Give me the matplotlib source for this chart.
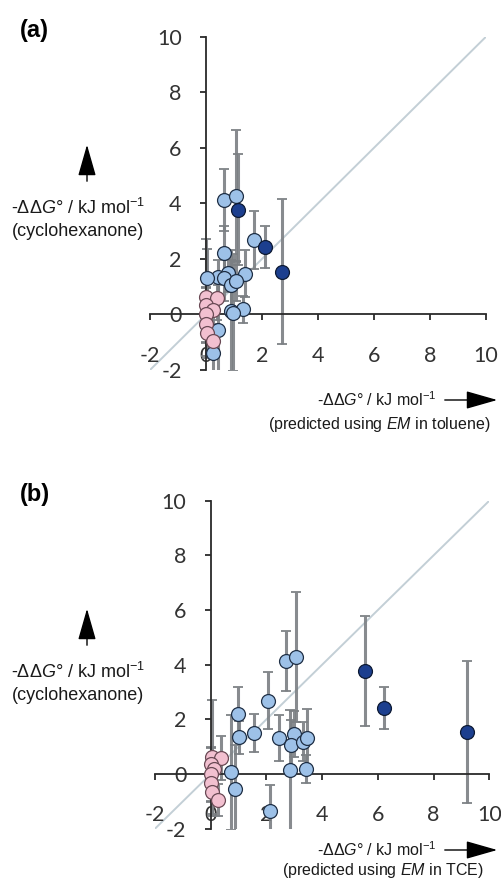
import matplotlib
matplotlib.use('Agg')
import matplotlib.pyplot as plt

plt.rcParams['mathtext.fontset'] = 'custom'
plt.rcParams['mathtext.rm'] = 'Liberation Sans'
plt.rcParams['mathtext.it'] = 'Liberation Sans:italic'
plt.rcParams['axes.unicode_minus'] = False

# light blue points (same y in both panels, x differs by EM solvent)
light_y = [4.12, 4.28, 2.68, 2.20, 1.35, 1.50, 1.32, 1.47, 1.07, 1.19, 1.32, 0.13, 0.18, 0.06, -0.55, -1.37]
light_err = [1.10, 2.37, 1.05, 1.00, 0.60, 0.70, 0.85, 0.85, 0.90, 0.70, 1.05, 2.20, 0.50, 2.10, 1.60, 0.97]
light_x_tol = [0.63, 1.08, 1.70, 0.63, 0.42, 0.78, 0.63, 1.41, 0.90, 1.08, 0.04, 0.90, 1.32, 0.95, 0.42, 0.24]
light_x_tce = [2.69, 3.05, 2.05, 0.99, 1.03, 1.56, 2.46, 3.00, 2.88, 3.33, 3.47, 2.85, 3.42, 0.73, 0.87, 2.13]

# dark blue points
dark_y = [3.77, 2.43, 1.54]
dark_err = [2.00, 0.77, 2.60]
dark_x_tol = [1.14, 2.10, 2.72]
dark_x_tce = [5.54, 6.22, 9.19]

# pink points
pink_y = [0.62, 0.60, 0.35, 0.17, 0.00, -0.33, -0.65, -0.95]
pink_err = [2.10, 0.80, 0.60, 0.50, 1.00, 0.70, 0.90, 0.60]
pink_x_tol = [0.00, 0.40, 0.00, 0.24, 0.00, 0.00, 0.03, 0.24]
pink_x_tce = [0.03, 0.37, 0.00, 0.10, 0.00, 0.00, 0.05, 0.25]

ticks = [-2, 0, 2, 4, 6, 8, 10]

W, H = 502, 889


def fx(x):
    return x / W


def fy(y):
    return 1 - y / H


fig = plt.figure(figsize=(W / 100, H / 100), dpi=100)

ax_a = fig.add_axes([fx(150), fy(370), fx(336), 333.3 / H])
ax_b = fig.add_axes([fx(155), fy(828.7), fx(334.3), 328 / H])


def draw_panel(ax, lx, dx, px):
    ax.plot([-2, 10], [-2, 10], color='#c3cfd6', lw=1.4, zorder=1)
    for xs, ys, es in [(lx, light_y, light_err), (dx, dark_y, dark_err), (px, pink_y, pink_err)]:
        ax.errorbar(xs, ys, yerr=es, fmt='none', ecolor='#7b7f83', elinewidth=2.2,
                    capsize=3.5, capthick=1.4, alpha=0.9, zorder=2)
    ax.plot(lx, light_y, 'o', ms=10, mfc='#9dc1e8', mec='#1f2f45', mew=0.9, zorder=3)
    ax.plot(dx, dark_y, 'o', ms=10, mfc='#1c3f8f', mec='#0d1a33', mew=0.9, zorder=4)
    ax.plot(px, pink_y, 'o', ms=10, mfc='#f2c0d0', mec='#6a4a55', mew=0.9, zorder=5)

    ax.set_xlim(-2, 10)
    ax.set_ylim(-2, 10)
    ax.set_xticks(ticks)
    ax.set_yticks(ticks)
    ax.spines['left'].set_position(('data', 0))
    ax.spines['bottom'].set_position(('data', 0))
    ax.spines['top'].set_visible(False)
    ax.spines['right'].set_visible(False)
    for s in ['left', 'bottom']:
        ax.spines[s].set_linewidth(1.3)
        ax.spines[s].set_color('#2a2a2a')
    ax.tick_params(axis='both', direction='out', length=4.5, width=1.3, color='#2a2a2a',
                   labelsize=15.5, labelcolor='#333333')
    ax.tick_params(axis='x', pad=18)
    ax.tick_params(axis='y', pad=13)
    for lab in ax.get_xticklabels() + ax.get_yticklabels():
        lab.set_fontfamily('Lato')
    ax.patch.set_alpha(0)


draw_panel(ax_a, light_x_tol, dark_x_tol, pink_x_tol)
draw_panel(ax_b, light_x_tce, dark_x_tce, pink_x_tce)

left_font = dict(family='Liberation Sans', fontsize=13, color='#1a1a1a')
bot_font = dict(family='Liberation Sans', fontsize=11.5, color='#1a1a1a')
y_label = r'-ΔΔ$G$° / kJ mol$^{-1}$'


def arrow(x0, y0, x1, y1):
    fig.add_artist(matplotlib.patches.FancyArrowPatch(
        (fx(x0), fy(y0)), (fx(x1), fy(y1)), transform=fig.transFigure,
        arrowstyle='-|>,head_length=1.4,head_width=0.4', mutation_scale=14,
        lw=1.0, color='black'))


for label, off in [('(a)', 0), ('(b)', 464)]:
    fig.text(fx(20), fy(30 + off), label, fontsize=17, fontweight='bold',
             family='Liberation Sans', va='center', ha='left')
    # vertical axis label with arrow
    arrow(87, 184 + off, 87, 142 + off)
    fig.text(fx(78), fy(208 + off), y_label, ha='center', va='center', **left_font)
    fig.text(fx(78), fy(231 + off), '(cyclohexanone)', ha='center', va='center', **left_font)

# horizontal axis labels
for yl1, yl2, cx, solvent in [(400, 424, 379, 'toluene'), (850, 871, 383, 'TCE')]:
    fig.text(fx(437), fy(yl1), y_label, ha='right', va='center', **bot_font)
    arrow(442, yl1, 500, yl1)
    fig.text(fx(cx), fy(yl2), '(predicted using $EM$ in ' + solvent + ')',
             ha='center', va='center', **bot_font)

fig.savefig('out.png', dpi=100)
